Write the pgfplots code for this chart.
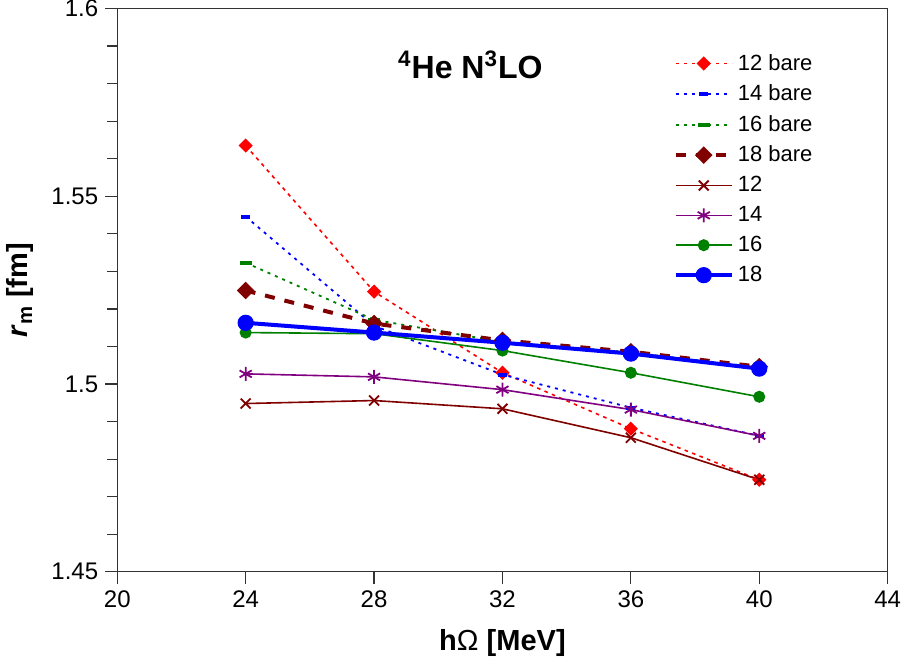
\documentclass[border=0pt]{standalone}
\usepackage{fontspec}
\setmainfont{Liberation Sans}
\usepackage{pgfplots}
\pgfplotsset{compat=1.18}
\definecolor{dkred}{RGB}{128,0,0}
\definecolor{dkgreen}{RGB}{0,128,0}
\definecolor{purp}{RGB}{128,0,128}
\begin{document}
\begin{tikzpicture}
\begin{axis}[
    scale only axis,
    width=385pt, height=281.5pt,
    xmin=20, xmax=44, ymin=1.45, ymax=1.6,
    xtick={20,24,...,44},
    ytick={1.45,1.5,1.55,1.6},
    minor y tick num=4,
    yticklabel style={/pgf/number format/fixed, /pgf/number format/precision=2, inner ysep=0pt},
    xticklabel style={inner xsep=0pt},
    /pgf/number format/assume math mode=true,
    tick align=outside,
    tick pos=left,
    major tick length=6pt, minor tick length=5pt,
    tick style={black!80, line width=0.6pt},
    axis line style={black!80},
    axis x line*=bottom, axis y line*=left,
    ticklabel style={font=\fontsize{12}{14}\selectfont},
    xlabel={\textbf{h{\mdseries Ω} [MeV]}},
    ylabel={\textbf{\textit{r}\textsubscript{m} [fm]}},
    label style={font=\fontsize{14.5}{17}\selectfont},
    xlabel style={yshift=-4pt},
    ylabel style={yshift=2pt},
    legend style={at={(0.714,0.934)}, anchor=north west, draw=none, fill=none,
        font=\fontsize{11}{13}\selectfont, row sep=1.8pt,
        cells={anchor=west}},
    every axis plot post/.append style={
        legend image code/.code={\draw[mark repeat=2,mark phase=2] plot coordinates {(0pt,0pt)(14pt,0pt)(28pt,0pt)};}},
    clip=false,
]
% box edges (top, right)
\draw[black!80, line width=0.4pt] (rel axis cs:0,1) -- (rel axis cs:1,1) -- (rel axis cs:1,0);

\addplot[red, line width=0.8pt, dash pattern=on 1.8pt off 2.2pt, mark=square*, mark size=2.1pt, mark options={solid, fill=red, rotate=45}]
  coordinates {(24,1.5635) (28,1.5246) (32,1.5030) (36,1.4881) (40,1.4745)};
\addlegendentry{12 bare}
\addplot[blue, line width=0.9pt, dash pattern=on 1.5pt off 2.5pt, mark=-, mark size=2.2pt, mark options={solid, line width=2pt}]
  coordinates {(24,1.5446) (28,1.5155) (32,1.5025) (36,1.4937) (40,1.4862)};
\addlegendentry{14 bare}
\addplot[dkgreen, line width=0.9pt, dash pattern=on 1.5pt off 2.5pt, mark=-, mark size=3pt, mark options={solid, line width=2pt}]
  coordinates {(24,1.5323) (28,1.5171) (32,1.5112) (36,1.5084) (40,1.5044)};
\addlegendentry{16 bare}
\addplot[dkred, line width=2pt, dash pattern=on 5pt off 5pt, mark=square*, mark size=2.9pt, mark options={solid, fill=dkred, line width=0.4pt, rotate=45}]
  coordinates {(24,1.5249) (28,1.5161) (32,1.5116) (36,1.5086) (40,1.5046)};
\addlegendentry{18 bare}
\addplot[dkred, line width=0.8pt, mark=x, mark size=3.5pt, mark options={line width=0.9pt}]
  coordinates {(24,1.4948) (28,1.4956) (32,1.4934) (36,1.4857) (40,1.4745)};
\addlegendentry{12}
\addplot[purp, line width=0.8pt, mark=asterisk, mark size=3.5pt, mark options={line width=0.9pt}]
  coordinates {(24,1.5027) (28,1.5019) (32,1.4985) (36,1.4932) (40,1.4862)};
\addlegendentry{14}
\addplot[dkgreen, line width=0.8pt, mark=*, mark size=2.6pt, mark options={fill=dkgreen}]
  coordinates {(24,1.5137) (28,1.5134) (32,1.5089) (36,1.5030) (40,1.4966)};
\addlegendentry{16}
\addplot[blue, line width=2pt, mark=*, mark size=3.8pt, mark options={fill=blue, line width=0.5pt}]
  coordinates {(24,1.5163) (28,1.5137) (32,1.5110) (36,1.5081) (40,1.5041)};
\addlegendentry{18}

\node[font=\bfseries\fontsize{16}{18}\selectfont] at (axis cs:31.0,1.585) {\textsuperscript{4}He N\textsuperscript{3}LO};
\end{axis}
\end{tikzpicture}
\end{document}
